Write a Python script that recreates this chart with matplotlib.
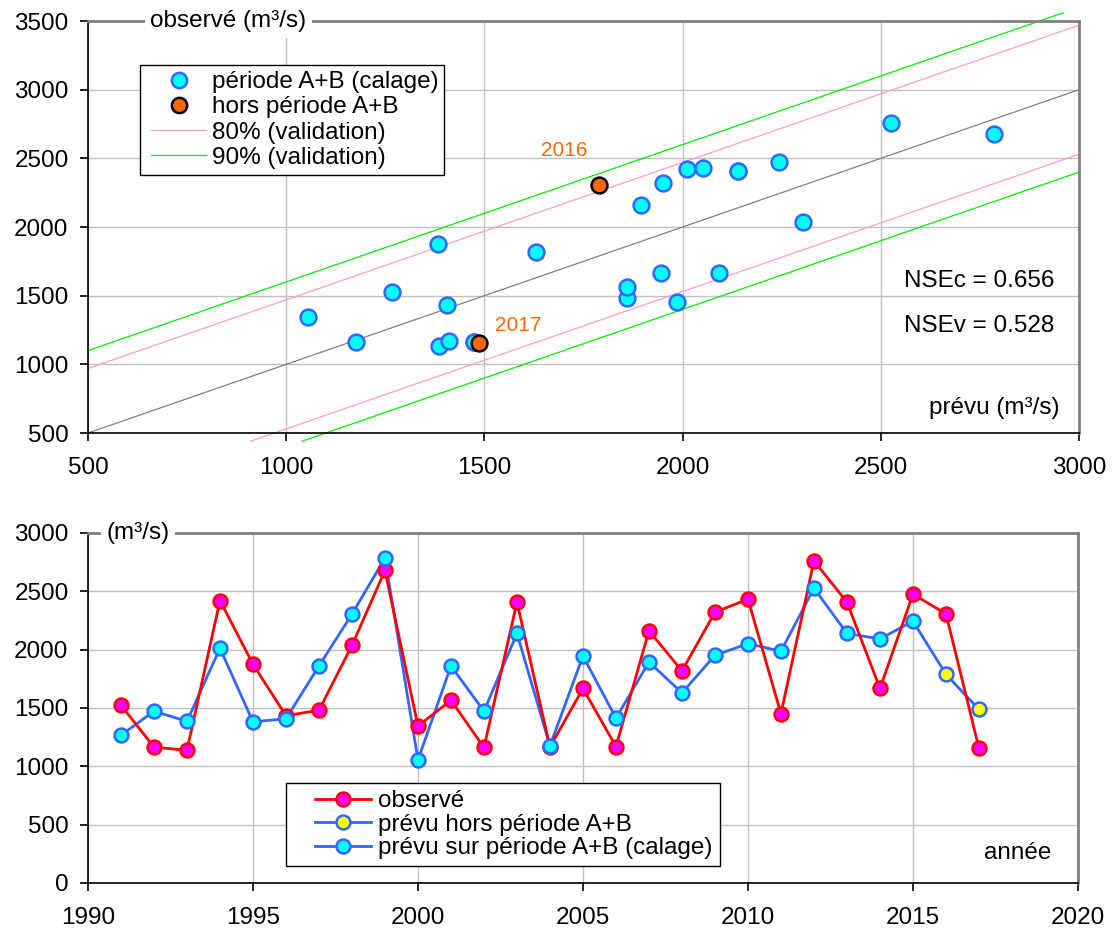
import numpy as np
import matplotlib
matplotlib.use("Agg")
import matplotlib.pyplot as plt
from matplotlib.lines import Line2D
from matplotlib.legend_handler import HandlerLine2D

plt.rcParams['font.family'] = ['Liberation Sans', 'DejaVu Sans']

# --- data ---
years = list(range(1991, 2018))
observe = [1524, 1165, 1137, 2421, 1875, 1434, 1480, 2036, 2679, 1345,
           1566, 1162, 2407, 1165, 1667, 1169, 2162, 1818, 2321, 2433,
           1451, 2761, 2407, 1667, 2476, 2307, 1154]
prevu = [1266, 1473, 1385, 2012, 1382, 1407, 1860, 2304, 2785, 1054,
         1860, 1473, 2139, 1175, 1946, 1412, 1894, 1630, 1951, 2052,
         1986, 2527, 2139, 2092, 2244, 1789, 1487]
hors_years = [2016, 2017]          # hors période A+B
band_80 = 470                      # offset of 80% validation lines
band_90 = 600                      # offset of 90% validation lines
nse_c = 0.656
nse_v = 0.528

years = np.array(years)
observe = np.array(observe)
prevu = np.array(prevu)
hors = np.isin(years, hors_years)
cal = ~hors

FS = 17.5
CYAN, BLUE = '#00ffff', '#3366ff'
ORANGE = '#ff6600'
PINK, GREEN = '#ff99cc', '#00ee00'
GRID = '#c0c0c0'

fig = plt.figure(figsize=(11.12, 9.31), dpi=100)
ax1 = fig.add_axes([0.0791, 0.5349, 0.8912, 0.4425])
ax2 = fig.add_axes([0.0791, 0.0516, 0.8903, 0.3759])


def style_axes(ax):
    ax.grid(True, color=GRID, lw=1.0)
    ax.set_axisbelow(True)
    for s in ('top', 'right'):
        ax.spines[s].set_color('#808080')
        ax.spines[s].set_linewidth(2.0)
    for s in ('left', 'bottom'):
        ax.spines[s].set_color('black')
        ax.spines[s].set_linewidth(1.2)
    ax.tick_params(direction='out', length=6, width=1.2, labelsize=FS, pad=8)
    ax.tick_params(axis='x', pad=11)


# --- top: scatter observé vs prévu ---
style_axes(ax1)
ax1.set_xlim(500, 3000)
ax1.set_ylim(500, 3500)
ax1.set_xticks(np.arange(500, 3001, 500))
ax1.set_yticks(np.arange(500, 3501, 500))

x = np.array([500, 3000])
ax1.plot(x, x, color='#808080', lw=0.9)
for off, col in ((band_80, PINK), (band_90, GREEN)):
    for sgn in (1, -1):
        lo = max(500, 440 - sgn * off)
        hi = min(3000, 3560 - sgn * off)
        xx = np.array([lo, hi])
        ax1.plot(xx, xx + sgn * off, color=col, lw=0.9, clip_on=False)

ax1.scatter(prevu[cal], observe[cal], s=130, c=CYAN, edgecolors=BLUE,
            linewidths=1.8, zorder=5)
ax1.scatter(prevu[hors], observe[hors], s=130, c=ORANGE, edgecolors='black',
            linewidths=1.8, zorder=6)

for yr, dx, dy in ((2016, -145, 250), (2017, 40, 130)):
    i = int(np.where(years == yr)[0][0])
    ax1.text(prevu[i] + dx, observe[i] + dy, str(yr), color=ORANGE,
             fontsize=15, va='center')

ax1.text(0.063, 1.0, 'observé (m³/s)', transform=ax1.transAxes, fontsize=FS,
         ha='left', va='center', zorder=10,
         bbox=dict(facecolor='white', edgecolor='none', pad=4))
ax1.text(0.98, 0.06, 'prévu (m³/s)', transform=ax1.transAxes, fontsize=FS,
         ha='right', va='center')
ax1.text(0.975, 0.37, f'NSEc = {nse_c:.3f}', transform=ax1.transAxes,
         fontsize=FS, ha='right', va='center')
ax1.text(0.975, 0.26, f'NSEv = {nse_v:.3f}', transform=ax1.transAxes,
         fontsize=FS, ha='right', va='center')

h1 = [
    Line2D([], [], ls='none', marker='o', ms=11, mfc=CYAN, mec=BLUE, mew=1.8),
    Line2D([], [], ls='none', marker='o', ms=11, mfc=ORANGE, mec='black', mew=1.8),
    Line2D([], [], color=PINK, lw=0.9),
    Line2D([], [], color=GREEN, lw=0.9),
]
lab1 = ['période A+B (calage)', 'hors période A+B',
        '80% (validation)', '90% (validation)']
leg1 = ax1.legend(h1, lab1, loc='upper left', bbox_to_anchor=(0.0525, 0.893),
                  fontsize=FS, frameon=True, fancybox=False, framealpha=1,
                  edgecolor='black', handlelength=2.45, handletextpad=0.25,
                  labelspacing=0.13, borderpad=0.25, borderaxespad=0,
                  handler_map={Line2D: HandlerLine2D(xpad=0.22)})
leg1.get_frame().set_linewidth(1.0)
leg1.set_zorder(20)

# --- bottom: time series ---
style_axes(ax2)
ax2.set_xlim(1990, 2020)
ax2.set_ylim(0, 3000)
ax2.set_xticks(np.arange(1990, 2021, 5))
ax2.set_yticks(np.arange(0, 3001, 500))

ax2.plot(years, prevu, color=BLUE, lw=2, zorder=3)
ax2.plot(years, observe, color='red', lw=2, zorder=4,
         marker='o', ms=10, mfc='#ff00ff', mec='red', mew=1.8)
ax2.plot(years[cal], prevu[cal], ls='none', marker='o', ms=10,
         mfc=CYAN, mec=BLUE, mew=1.8, zorder=5)
ax2.plot(years[hors], prevu[hors], ls='none', marker='o', ms=10,
         mfc='yellow', mec=BLUE, mew=1.8, zorder=5)

ax2.text(0.019, 1.0, '(m³/s)', transform=ax2.transAxes, fontsize=FS,
         ha='left', va='center', zorder=10,
         bbox=dict(facecolor='white', edgecolor='none', pad=4))
ax2.text(0.973, 0.086, 'année', transform=ax2.transAxes, fontsize=FS,
         ha='right', va='center')

h2 = [
    Line2D([], [], color='red', lw=2, marker='o', ms=10, mfc='#ff00ff', mec='red', mew=1.8),
    Line2D([], [], color=BLUE, lw=2, marker='o', ms=10, mfc='yellow', mec=BLUE, mew=1.8),
    Line2D([], [], color=BLUE, lw=2, marker='o', ms=10, mfc=CYAN, mec=BLUE, mew=1.8),
]
lab2 = ['observé', 'prévu hors période A+B', 'prévu sur période A+B (calage)']
leg2 = ax2.legend(h2, lab2, loc='upper left', bbox_to_anchor=(0.2, 0.286),
                  fontsize=FS, frameon=True, fancybox=False, framealpha=1,
                  edgecolor='black', handlelength=3.2, handletextpad=0.3,
                  labelspacing=0.06, borderpad=0.3, borderaxespad=0,
                  handler_map={Line2D: HandlerLine2D(xpad=0.9)})
leg2.get_frame().set_linewidth(1.0)

fig.savefig('out.png', dpi=100)
